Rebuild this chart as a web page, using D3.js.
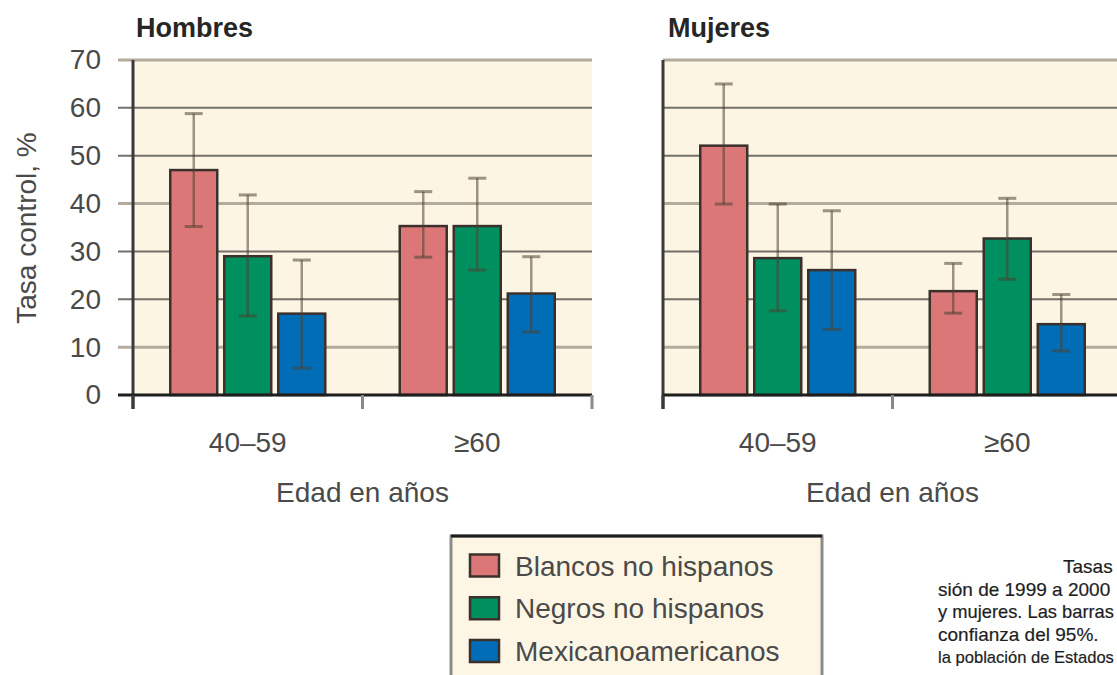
<!DOCTYPE html>
<html>
<head>
<meta charset="utf-8">
<script src="https://cdn.jsdelivr.net/npm/d3@7"></script>
<style>
  html, body { margin: 0; padding: 0; background: #ffffff; overflow: hidden; }
  svg { display: block; font-family: "Liberation Sans", Arial, sans-serif; }
</style>
</head>
<body>
<svg id="chart" width="1117" height="675"></svg>
<script>
// Hypertension control rate by age group, sex and ethnicity
const ageGroups = ["40–59", "≥60"];
const seriesNames = ["Blancos no hispanos", "Negros no hispanos", "Mexicanoamericanos"];
const seriesColors = ["#dc7777", "#008f5f", "#006db6"];
const yTicks = [0, 10, 20, 30, 40, 50, 60, 70];

// Men: [40–59 values per series], [≥60 values per series]
const menRate  = [[47, 29, 17], [35.3, 35.3, 21.2]];
const menLow   = [[35.2, 16.5, 5.6], [28.8, 26.1, 13.2]];
const menHigh  = [[58.8, 41.8, 28.2], [42.5, 45.3, 28.9]];
// Women
const womenRate = [[52.1, 28.6, 26.1], [21.7, 32.7, 14.8]];
const womenLow  = [[39.9, 17.6, 13.7], [17.1, 24.2, 9.2]];
const womenHigh = [[65, 39.9, 38.5], [27.5, 41.1, 21]];

const panelTitles = ["Hombres", "Mujeres"];
const xTitle = "Edad en años";
const yTitle = "Tasa control, %";
const captionLines = [
  "Tasas",
  "sión de 1999 a 2000",
  "y mujeres. Las barras",
  "confianza del 95%.",
  "la población de Estados"
];

const svg = d3.select("#chart");
const y = d3.scaleLinear().domain([0, 70]).range([395, 60]);
const textGray = "#4a4a4a";

const panels = [
  { title: panelTitles[0], x0: 133, x1: 592, rate: menRate, low: menLow, high: menHigh, labels: true },
  { title: panelTitles[1], x0: 663, x1: 1122, rate: womenRate, low: womenLow, high: womenHigh, labels: false }
];

panels.forEach(p => {
  const g = svg.append("g");
  const xOuter = d3.scaleBand().domain(ageGroups).range([p.x0, p.x1]).padding(0);
  const clusterW = 155;
  const xInner = d3.scaleBand().domain(d3.range(seriesNames.length)).range([0, clusterW]).paddingInner(0.13);
  const offset = (xOuter.bandwidth() - clusterW) / 2;

  // plot background
  g.append("rect")
    .attr("x", p.x0).attr("y", y(70))
    .attr("width", p.x1 - p.x0).attr("height", y(0) - y(70))
    .attr("fill", "#fcf5e3");

  // gridlines (alternating weights)
  yTicks.filter(t => t > 0).forEach(t => {
    const light = (t === 10 || t === 40 || t === 70);
    g.append("line")
      .attr("x1", p.labels ? p.x0 - 15 : p.x0).attr("x2", p.x1)
      .attr("y1", y(t)).attr("y2", y(t))
      .attr("stroke", light ? "#b3ab9c" : "#74706a")
      .attr("stroke-width", light ? 3 : 2);
  });

  // y axis
  if (p.labels) {
    const yAxis = d3.axisLeft(y).tickValues(yTicks).tickSize(0).tickPadding(32);
    const ya = g.append("g").attr("transform", `translate(${p.x0},0)`).call(yAxis);
    ya.select(".domain").remove();
    ya.selectAll("text")
      .attr("font-size", 28).attr("fill", textGray)
      .attr("font-family", "Liberation Sans, Arial, sans-serif");
  }
  g.append("line")
    .attr("x1", p.x0).attr("x2", p.x0)
    .attr("y1", y(70)).attr("y2", y(0) + 14)
    .attr("stroke", "#3a3a3a").attr("stroke-width", 3);

  // bars
  ageGroups.forEach((ag, gi) => {
    seriesNames.forEach((s, si) => {
      const bx = xOuter(ag) + offset + xInner(si);
      const bw = xInner.bandwidth();
      g.append("rect")
        .attr("x", bx).attr("y", y(p.rate[gi][si]))
        .attr("width", bw).attr("height", y(0) - y(p.rate[gi][si]))
        .attr("fill", seriesColors[si])
        .attr("stroke", "#3b302c").attr("stroke-width", 2.5);
    });
  });

  // error bars
  ageGroups.forEach((ag, gi) => {
    seriesNames.forEach((s, si) => {
      const cx = xOuter(ag) + offset + xInner(si) + xInner.bandwidth() / 2;
      const eg = g.append("g").attr("stroke", "#4d4232").attr("stroke-opacity", 0.55).attr("stroke-width", 2.5);
      eg.append("line").attr("x1", cx).attr("x2", cx)
        .attr("y1", y(p.high[gi][si])).attr("y2", y(p.low[gi][si]));
      [p.high[gi][si], p.low[gi][si]].forEach(v => {
        eg.append("line").attr("x1", cx - 9).attr("x2", cx + 9)
          .attr("y1", y(v)).attr("y2", y(v)).attr("stroke-width", 3);
      });
    });
  });

  // x axis baseline and ticks
  g.append("line")
    .attr("x1", p.labels ? p.x0 - 15 : p.x0).attr("x2", p.x1)
    .attr("y1", y(0)).attr("y2", y(0))
    .attr("stroke", "#1e1e1e").attr("stroke-width", 3);
  [p.x0, (p.x0 + p.x1) / 2, p.x1].forEach((tx, i) => {
    g.append("line")
      .attr("x1", tx).attr("x2", tx)
      .attr("y1", y(0)).attr("y2", y(0) + 14)
      .attr("stroke", i === 0 ? "#3a3a3a" : "#8a8a8a").attr("stroke-width", 3);
  });

  // category labels
  ageGroups.forEach(ag => {
    g.append("text")
      .attr("x", xOuter(ag) + xOuter.bandwidth() / 2).attr("y", 452)
      .attr("text-anchor", "middle").attr("font-size", 28).attr("fill", textGray)
      .text(ag);
  });

  // axis title
  g.append("text")
    .attr("x", (p.x0 + p.x1) / 2).attr("y", 502)
    .attr("text-anchor", "middle").attr("font-size", 28).attr("fill", textGray)
    .text(xTitle);

  // panel title
  g.append("text")
    .attr("x", p.x0 + (p.labels ? 3 : 5)).attr("y", 37)
    .attr("font-size", 27).attr("font-weight", "bold").attr("fill", "#262626")
    .text(p.title);
});

// y title
svg.append("text")
  .attr("transform", "translate(36,228) rotate(-90)")
  .attr("text-anchor", "middle").attr("font-size", 28).attr("fill", textGray)
  .text(yTitle);

// legend
const lg = svg.append("g");
lg.append("rect").attr("x", 451).attr("y", 536).attr("width", 371).attr("height", 160)
  .attr("fill", "#fdf6e4").attr("stroke", "#8c8c8c").attr("stroke-width", 3);
lg.append("line").attr("x1", 451).attr("x2", 822).attr("y1", 536).attr("y2", 536)
  .attr("stroke", "#1e1e1e").attr("stroke-width", 3);
const legendRow = d3.scalePoint().domain(seriesNames).range([565.5, 651]);
seriesNames.forEach((s, i) => {
  lg.append("rect").attr("x", 470).attr("y", legendRow(s) - 11).attr("width", 29).attr("height", 22)
    .attr("fill", seriesColors[i]).attr("stroke", "#3b302c").attr("stroke-width", 2.5);
  lg.append("text").attr("x", 515).attr("y", legendRow(s) + 10)
    .attr("font-size", 28).attr("fill", textGray).text(s);
});

// caption: each line sized to stay inside the right edge
const cap = svg.append("g").attr("fill", "#1e1e1e")
  .attr("stroke", "#1e1e1e").attr("stroke-width", 0.2);
captionLines.forEach((line, i) => {
  const t = cap.append("text")
    .attr("x", i === 0 ? 1063 : 938).attr("y", 573 + i * 22.6)
    .attr("font-size", 19)
    .text(line);
  const avail = 1114 - (i === 0 ? 1063 : 938);
  const w = t.node().getComputedTextLength();
  if (w > avail) t.attr("font-size", 19 * avail / w);
});
</script>
</body>
</html>
